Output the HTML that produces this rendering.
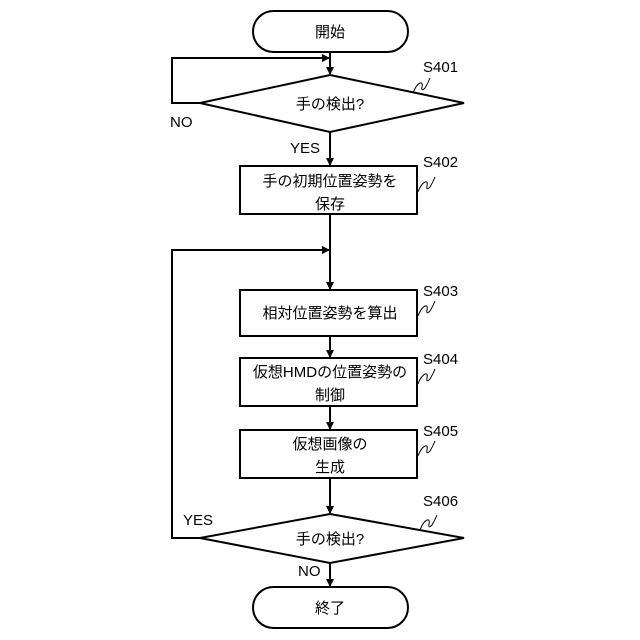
<!DOCTYPE html>
<html><head><style>
body{margin:0;background:#fff}
svg{display:block}
text{font-family:"Liberation Sans","Noto Sans CJK JP",sans-serif;font-size:15px;fill:#000}
.c{text-anchor:middle}
</style></head><body>
<svg width="640" height="640" viewBox="0 0 640 640">
<defs><marker id="a" markerWidth="8" markerHeight="8" refX="7" refY="4" orient="auto" markerUnits="userSpaceOnUse"><path d="M0,0 L8,4 L0,8 Z" fill="#000"/></marker></defs>
<g stroke="#000" stroke-width="2" fill="none">
<rect x="253" y="11" width="155" height="41" rx="20.5"/>
<line x1="330" y1="52" x2="330" y2="74" marker-end="url(#a)"/>
<path d="M201,103 H172 V58 H329" marker-end="url(#a)"/>
<polygon points="330,75 464,103 330,132 200,103"/>
<line x1="330" y1="132" x2="330" y2="165" marker-end="url(#a)"/>
<rect x="240" y="166" width="177" height="48"/>
<line x1="330" y1="214" x2="330" y2="289" marker-end="url(#a)"/>
<path d="M201,538 H172 V250 H329" marker-end="url(#a)"/>
<rect x="240" y="290" width="177" height="46"/>
<line x1="330" y1="336" x2="330" y2="357" marker-end="url(#a)"/>
<rect x="240" y="358" width="177" height="48"/>
<line x1="330" y1="406" x2="330" y2="429" marker-end="url(#a)"/>
<rect x="240" y="430" width="177" height="48"/>
<line x1="330" y1="478" x2="330" y2="513" marker-end="url(#a)"/>
<polygon points="330,514 464,538 330,563 200,538"/>
<line x1="330" y1="563" x2="330" y2="586" marker-end="url(#a)"/>
<rect x="253" y="587" width="155" height="41" rx="20.5"/>
</g>
<g stroke="#000" stroke-width="1" fill="none">
<path d="M413,93 q3,-8 7,-10 q3,-1 2,4 q-1,5 3,1 q3,-5 5,-10"/>
<path d="M418,192 q3,-8 7,-10 q3,-1 2,4 q-1,5 3,1 q3,-5 5,-10"/>
<path d="M418,316 q3,-8 7,-10 q3,-1 2,4 q-1,5 3,1 q3,-5 5,-10"/>
<path d="M418,384 q3,-8 7,-10 q3,-1 2,4 q-1,5 3,1 q3,-5 5,-10"/>
<path d="M418,456 q3,-8 7,-10 q3,-1 2,4 q-1,5 3,1 q3,-5 5,-10"/>
<path d="M420,530 q3,-8 7,-10 q3,-1 2,4 q-1,5 3,1 q3,-5 5,-10"/>
</g>
<text class="c" x="330" y="37">開始</text>
<text class="c" x="330" y="109">手の検出?</text>
<text x="170" y="127">NO</text>
<text x="290" y="153">YES</text>
<text class="c" x="330" y="186">手の初期位置姿勢を</text>
<text class="c" x="330" y="209">保存</text>
<text class="c" x="330" y="318">相対位置姿勢を算出</text>
<text class="c" x="330" y="377">仮想HMDの位置姿勢の</text>
<text class="c" x="330" y="400">制御</text>
<text class="c" x="330" y="449">仮想画像の</text>
<text class="c" x="330" y="472">生成</text>
<text class="c" x="330" y="544">手の検出?</text>
<text x="183" y="525">YES</text>
<text x="298" y="576">NO</text>
<text class="c" x="330" y="613">終了</text>
<text x="423" y="72">S401</text>
<text x="423" y="167">S402</text>
<text x="423" y="296">S403</text>
<text x="423" y="364">S404</text>
<text x="423" y="436">S405</text>
<text x="423" y="506">S406</text>
</svg>
</body></html>
